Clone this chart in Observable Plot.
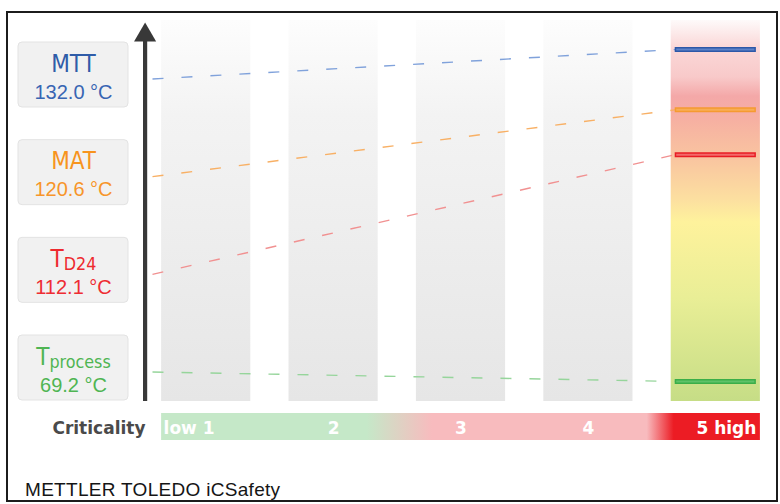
<!DOCTYPE html>
<html><head><meta charset="utf-8">
<script src="https://cdn.jsdelivr.net/npm/d3@7"></script>
<script src="https://cdn.jsdelivr.net/npm/@observablehq/plot@0.6"></script>
<style>
html,body{margin:0;padding:0;background:#fff;}
#page{position:relative;width:780px;height:504px;overflow:hidden;}
#frame{position:absolute;left:6px;top:11px;width:772px;height:491px;box-sizing:border-box;border:2px solid #1c1c1c;}
#page svg{position:absolute;left:0;}
#footer{position:absolute;left:25px;top:480px;font:19px "Liberation Sans",Arial,sans-serif;line-height:20px;color:#151515;letter-spacing:0.3px;white-space:nowrap;}
</style></head>
<body><div id="page"><div id="frame"></div><div id="footer"></div></div>
<script>
// ---------- data ----------
const seriesKeys   = ["MTT", "MAT", "TD24", "Tprocess"];
const seriesMain   = ["MTT", "MAT", "T", "T"];
const seriesSub    = ["", "", "D24", "process"];
const seriesValues = [132.0, 120.6, 112.1, 69.2];
const levelIndex   = [1, 2, 3, 4, 5];
const levelLabels  = ["low 1", "2", "3", "4", "5 high"];
const axisTitle    = "Criticality";
const footerText   = "METTLER TOLEDO iCSafety";
const unit         = "°C";

// ---------- styles ----------
const palette = {
  MTT:      {text: "#2f5ca8", value: "#3865b3", dash: "#80a2db", edge: "#2c58a8", mark: "#5c82c8"},
  MAT:      {text: "#f7941e", value: "#f7952a", dash: "#f8b065", edge: "#f59a30", mark: "#f8ad55"},
  TD24:     {text: "#ee2a2f", value: "#ee2d33", dash: "#f19191", edge: "#e81c24", mark: "#f36a6a"},
  Tprocess: {text: "#4fb553", value: "#4fb553", dash: "#96d59b", edge: "#3aae48", mark: "#5fc168"}
};

// ---------- layout ----------
const W = 780, H1 = 405;
const mainTop = 20, mainBottom = 401;
const marginLeft = 142, marginRight = 1;
const xDomain = [0.5, 5.5];
const pxPerCol = (W - marginLeft - marginRight) / (xDomain[1] - xDomain[0]);
const half = 0.35;
const yDomain = [65.4, 137.5];
const yInvert = px => yDomain[1] - (px - mainTop) / (mainBottom - mainTop) * (yDomain[1] - yDomain[0]);
const boxTop0 = 42, boxStep = 97.67, boxH = 65, boxLeft = 18, boxRight = 128;
const arrowX = 0.5 + 2.6 / pxPerCol;
const dashStart = 0.5 + 10 / pxPerCol;
const lastCol = d3.max(levelIndex);
const markX1 = lastCol - half + 4 / pxPerCol, markX2 = lastCol + half - 4 / pxPerCol;

const series = seriesKeys.map((k, i) => ({
  key: k, main: seriesMain[i], sub: seriesSub[i], value: seriesValues[i], i,
  label: `${seriesValues[i].toFixed(1)} ${unit}`,
  anchor: yInvert(boxTop0 + i * boxStep + 36.5)
}));

// ---------- fonts ----------
function hasFont(f) {
  const c = document.createElement("canvas").getContext("2d");
  const s = "MTT process 0123";
  c.font = "40px monospace"; const a = c.measureText(s).width;
  c.font = `40px "${f}", monospace`; return Math.abs(c.measureText(s).width - a) > 0.5;
}
let titleFont = {family: '"Liberation Sans", Arial, sans-serif', size: 22.5};
if (hasFont("Liberation Sans Narrow")) titleFont = {family: '"Liberation Sans Narrow", sans-serif', size: 27};
else if (hasFont("Arial Narrow")) titleFont = {family: '"Arial Narrow", sans-serif', size: 27};
else if (hasFont("DejaVu Sans Condensed")) titleFont = {family: '"DejaVu Sans Condensed", sans-serif', size: 24};
const subSize = titleFont.size * 0.74;
const ctx = document.createElement("canvas").getContext("2d");
function tw(t, size) { ctx.font = `${size}px ${titleFont.family}`; return ctx.measureText(t).width; }
series.forEach(d => {
  const wm = tw(d.main, titleFont.size), ws = d.sub ? tw(d.sub, subSize) : 0;
  const start = -(wm + ws) / 2;
  d.mainOff = start / (boxRight - boxLeft);
  d.subOff = (start + wm) / (boxRight - boxLeft);
});

const boldFont = '"DejaVu Sans", Verdana, sans-serif';
const valueFont = '"Liberation Sans", Arial, sans-serif';

// ---------- main plot ----------
const mainPlot = Plot.plot({
  width: W, height: H1,
  marginTop: mainTop, marginBottom: H1 - mainBottom, marginLeft, marginRight,
  x: {domain: xDomain, axis: null},
  y: {domain: yDomain, axis: null},
  style: "background:transparent;overflow:visible;top:0px",
  marks: [
    Plot.rect(levelIndex.slice(0, -1), {x1: d => d - half, x2: d => d + half, fill: "url(#gBand)"}),
    Plot.rect([lastCol], {x1: d => d - half, x2: d => d + half, fill: "url(#gHot)"}),
    Plot.link(series, {
      x1: () => dashStart, y1: "anchor", x2: () => markX1, y2: "value",
      stroke: d => palette[d.key].dash, strokeWidth: 1.4, strokeDasharray: "11,18"
    }),
    Plot.ruleY(series, {y: "value", x1: () => markX1, x2: () => markX2, stroke: d => palette[d.key].edge, strokeWidth: 5}),
    Plot.ruleY(series, {y: "value", x1: () => markX1 + 1.5 / pxPerCol, x2: () => markX2 - 1.5 / pxPerCol, stroke: d => palette[d.key].mark, strokeWidth: 2}),
    Plot.ruleX([arrowX], {x: d => d, stroke: "#383838", strokeWidth: 4.2, insetTop: 20}),
    Plot.dot([arrowX], {x: d => d, frameAnchor: "top", symbol: "triangle", r: 8.2, fill: "#383838", stroke: "none", dy: 14.7})
  ]
});
d3.select(mainPlot).insert("defs", ":first-child").html(`
<linearGradient id="gBand" x1="0" y1="0" x2="0" y2="1">
 <stop offset="0" stop-color="#fdfdfd"/><stop offset="0.25" stop-color="#f3f3f3"/><stop offset="1" stop-color="#e6e6e6"/>
</linearGradient>
<linearGradient id="gHot" x1="0" y1="0" x2="0" y2="1">
 <stop offset="0" stop-color="#fefafa"/>
 <stop offset="0.07" stop-color="#fad8d8"/>
 <stop offset="0.15" stop-color="#f8c9c9"/>
 <stop offset="0.20" stop-color="#f4a8a8"/>
 <stop offset="0.26" stop-color="#f6b0a2"/>
 <stop offset="0.36" stop-color="#f9c4a0"/>
 <stop offset="0.47" stop-color="#fcdfa0"/>
 <stop offset="0.53" stop-color="#fef29c"/>
 <stop offset="0.73" stop-color="#e9ee96"/>
 <stop offset="1" stop-color="#c6dd86"/>
</linearGradient>`);

// ---------- label boxes ----------
const labelPlot = Plot.plot({
  width: 140, height: H1, margin: 0,
  x: {domain: [0, 1], range: [boxLeft, boxRight], axis: null},
  y: {type: "band", domain: seriesKeys, range: [boxTop0, boxTop0 + 3 * boxStep + boxH],
      paddingInner: 1 - boxH / boxStep, paddingOuter: 0, round: false, axis: null},
  style: "background:transparent;overflow:visible;top:0px",
  marks: [
    Plot.barX(series, {x1: 0, x2: 1, y: "key", fill: "#f1f1f1", stroke: "#e3e3e3", strokeWidth: 1, rx: 4}),
    Plot.text(series, {x: d => 0.5 + d.mainOff, y: "key", text: "main", textAnchor: "start", lineAnchor: "bottom",
      dy: -3.5, fill: d => palette[d.key].text, fontSize: titleFont.size, fontFamily: titleFont.family}),
    Plot.text(series.filter(d => d.sub), {x: d => 0.5 + d.subOff, y: "key", text: "sub", textAnchor: "start", lineAnchor: "bottom",
      dy: 0, fill: d => palette[d.key].text, fontSize: subSize, fontFamily: titleFont.family}),
    Plot.text(series, {x: () => 0.5, y: "key", text: "label", textAnchor: "middle", lineAnchor: "bottom",
      dy: 23.5, fill: d => palette[d.key].value, fontSize: 20, fontFamily: valueFont})
  ]
});

// ---------- criticality bar ----------
const critPlot = Plot.plot({
  width: W, height: 36, marginTop: 3, marginBottom: 6, marginLeft, marginRight,
  x: {domain: xDomain, axis: null},
  style: "background:transparent;overflow:visible;top:410px",
  marks: [
    Plot.rect([levelIndex], {x1: d => d3.min(d) - half, x2: d => d3.max(d) + half, fill: "url(#gCrit)"}),
    Plot.text(levelIndex.slice(0, 1), {x: d => d - half + 2 / pxPerCol, text: d => levelLabels[d - 1], textAnchor: "start",
      frameAnchor: "middle", dy: 1.5, fill: "#fff", fontSize: 17, fontWeight: "bold", fontFamily: boldFont}),
    Plot.text(levelIndex.slice(1, -1), {x: d => d, text: d => levelLabels[d - 1], textAnchor: "middle",
      frameAnchor: "middle", dy: 1.5, fill: "#fff", fontSize: 17, fontWeight: "bold", fontFamily: boldFont}),
    Plot.text(levelIndex.slice(-1), {x: d => d + half - 4 / pxPerCol, text: d => levelLabels[d - 1], textAnchor: "end",
      frameAnchor: "middle", dy: 1.5, fill: "#fff", fontSize: 17, fontWeight: "bold", fontFamily: boldFont}),
    Plot.text([axisTitle], {x: () => 0.5 + 3 / pxPerCol, text: d => d, textAnchor: "end",
      frameAnchor: "middle", dy: 1.5, fill: "#4a4a4a", fontSize: 17, fontWeight: "bold", fontFamily: boldFont})
  ]
});
d3.select(critPlot).insert("defs", ":first-child").html(`
<linearGradient id="gCrit" x1="0" y1="0" x2="1" y2="0">
 <stop offset="0" stop-color="#c5e8c8"/><stop offset="0.343" stop-color="#c5e8c8"/>
 <stop offset="0.453" stop-color="#f8bbbe"/><stop offset="0.811" stop-color="#f8bbbe"/>
 <stop offset="0.856" stop-color="#ec1c24"/><stop offset="1" stop-color="#ec1c24"/>
</linearGradient>`);

const page = document.getElementById("page");
page.appendChild(mainPlot);
page.appendChild(labelPlot);
page.appendChild(critPlot);
document.getElementById("footer").textContent = footerText;
</script>
</body></html>
